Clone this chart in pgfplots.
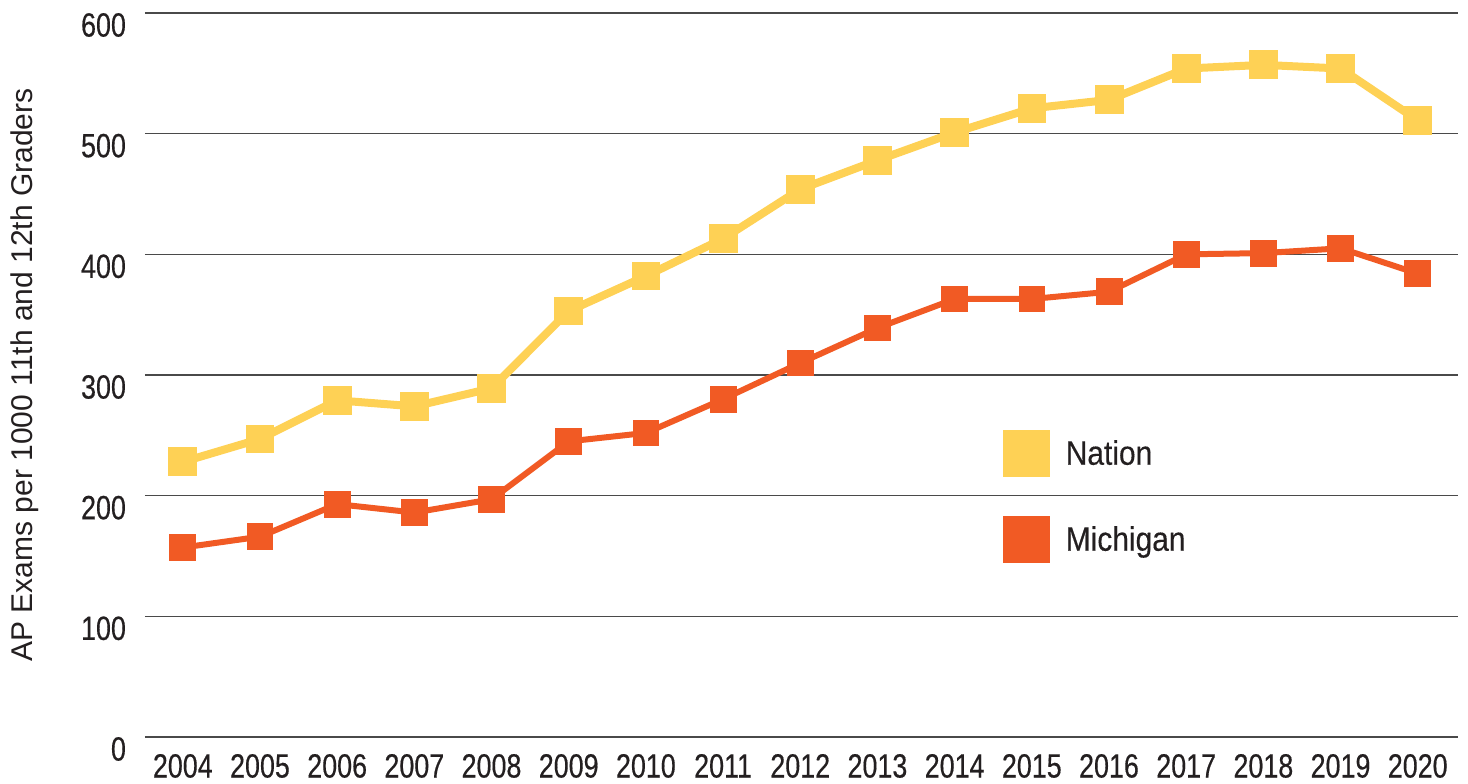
\documentclass[border=0pt]{standalone}
\usepackage{pgfplots}
\pgfplotsset{compat=1.18}
\usepackage{fontspec}
\setmainfont{Liberation Sans}
\newfontfamily\condfont[FakeStretch=0.80, FakeBold=0.4]{Liberation Sans}
\newfontfamily\semicondfont[FakeStretch=0.88, FakeBold=0.2]{Liberation Sans}
\definecolor{nation}{HTML}{FED155}
\definecolor{michigan}{HTML}{F15A24}
\definecolor{gridc}{HTML}{4A4A4A}
\definecolor{txt}{HTML}{231F20}
\begin{document}
\begin{tikzpicture}
\begin{axis}[
  scale only axis,
  width=656.5pt, height=362pt,
  xmin=2003.51, xmax=2020.52,
  ymin=0, ymax=600,
  xtick={2004,...,2020},
  ytick={0,100,...,600},
  axis line style={draw=none},
  major tick length=0pt,
  ymajorgrids,
  grid style={gridc, line width=0.75pt},
  /pgf/number format/assume math mode=true,
  /pgf/number format/set thousands separator={},
  ticklabel style={font=\condfont\fontsize{16.8}{20}\selectfont, text=txt},
  yticklabel style={anchor=east, xshift=-6pt, yshift=-6pt},
  xticklabel style={anchor=north, yshift=-5pt},
  ylabel={AP Exams per 1000 11th and 12th Graders},
  ylabel style={font=\fontsize{15}{18}\selectfont, text=txt, at={(axis description cs:0,0.5)}, anchor=north, yshift=67.5pt, inner sep=0pt},
  legend style={draw=none, fill=none, at={(axis description cs:0.653,0.424)}, anchor=north west,
    font=\semicondfont\fontsize{17}{20}\selectfont, text=txt, row sep=19.5pt, inner sep=0pt},
  legend cell align=left,
  legend image code/.code={\fill[#1, draw=none] (0pt,-11.75pt) rectangle (23.5pt,11.75pt);},
  /tikz/every odd column/.append style={column sep=6pt},
]
\addplot[nation, line width=4pt, mark=square*, mark size=5.2pt, mark options={draw=none, fill=nation}] coordinates {
(2004,228) (2005,247) (2006,279) (2007,274) (2008,289) (2009,353) (2010,382) (2011,413) (2012,454) (2013,478) (2014,501) (2015,521) (2016,528) (2017,554) (2018,557) (2019,554) (2020,511)
};
\addlegendentry{Nation}
\addplot[michigan, line width=3pt, mark=square*, mark size=5.2pt, mark options={draw=none, fill=michigan}] coordinates {
(2004,157) (2005,166) (2006,193) (2007,186) (2008,197) (2009,245) (2010,252) (2011,280) (2012,310) (2013,339) (2014,363) (2015,363) (2016,369) (2017,400) (2018,401) (2019,405) (2020,384)
};
\addlegendentry{Michigan}
\end{axis}
\pgfresetboundingbox
\path[use as bounding box] ([xshift=-72.5pt,yshift=-23pt]current axis.south west) rectangle ([xshift=5pt,yshift=6.5pt]current axis.north east);
\end{tikzpicture}
\end{document}
